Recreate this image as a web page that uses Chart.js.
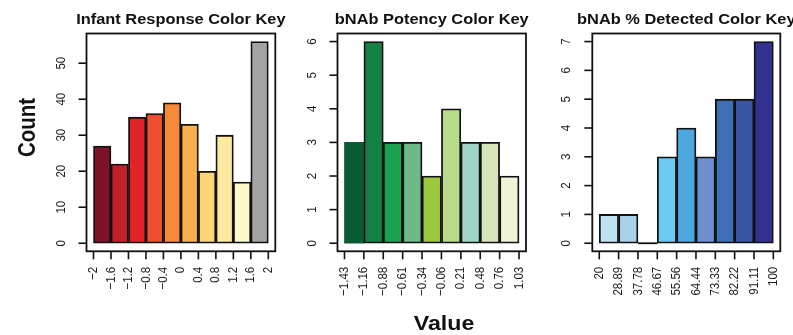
<!DOCTYPE html>
<html>
<head>
<meta charset="utf-8">
<script src="https://cdn.jsdelivr.net/npm/chart.js@4/dist/chart.umd.min.js"></script>
<style>
  html, body { margin: 0; padding: 0; background: #fff; }
  #wrap { position: relative; width: 793px; height: 335px; }
  #wrap canvas { position: absolute; left: 0; top: 0; }
</style>
</head>
<body>
<div id="wrap">
  <canvas id="infant" width="793" height="335"></canvas>
  <canvas id="potency" width="793" height="335"></canvas>
  <canvas id="detected" width="793" height="335"></canvas>
</div>
<script>
// Histogram bin edges (also the x tick labels) and counts per bin
const infantBreaks  = [-2, -1.6, -1.2, -0.8, -0.4, 0, 0.4, 0.8, 1.2, 1.6, 2];
const infantCounts  = [27, 22, 35, 36, 39, 33, 20, 30, 17, 56];
const infantYTicks  = [0, 10, 20, 30, 40, 50];

const potencyBreaks = [-1.43, -1.16, -0.88, -0.61, -0.34, -0.06, 0.21, 0.48, 0.76, 1.03];
const potencyCounts = [3, 6, 3, 3, 2, 4, 3, 3, 2];
const potencyYTicks = [0, 1, 2, 3, 4, 5, 6];

const detectedBreaks = [20, 28.89, 37.78, 46.67, 55.56, 64.44, 73.33, 82.22, 91.11, 100];
const detectedCounts = [1, 1, 0, 3, 4, 3, 5, 5, 7];
const detectedYTicks = [0, 1, 2, 3, 4, 5, 6, 7];

const panelTitles = ['Infant Response Color Key', 'bNAb Potency Color Key', 'bNAb % Detected Color Key'];

// Fill palettes
const infantColors = ['#7d1229', '#c2202c', '#e32227', '#f04f2f', '#f68a3a', '#f9b04c', '#fcd676', '#fde99f', '#fef8cd', '#a3a3a3'];
const potencyColors = ['#0a5b34', '#138045', '#1ca24f', '#6cb98c', '#9cc93e', '#b9da8b', '#a0d5c5', '#d6e4b9', '#eff4d6'];
const detectedColors = ['#bfe3f0', '#a9d0e9', '#9fc8e6', '#6dcbf1', '#4ba7dc', '#6f8fd0', '#3f6fb6', '#3754a5', '#33318f'];

const FONT = '"Liberation Sans", Arial, Helvetica, sans-serif';
const STRETCH = 1.13;   // horizontal glyph widening used for all text
const INK = '#111111';

function fmt(v) {
  return String(v).replace('-', '\u2212');
}

// Box, outward ticks, tick labels and titles in base-graphics style
const rFrame = {
  id: 'rFrame',
  afterDatasetsDraw(chart) {
    const ctx = chart.ctx;
    const meta = chart.getDatasetMeta(0);
    const ds = chart.data.datasets[0];
    ctx.save();
    ctx.strokeStyle = INK;
    ctx.lineWidth = 1.8;
    meta.data.forEach((bar, i) => {
      if (ds.data[i].y === 0) {
        const p = bar.getProps(['x', 'y', 'width'], true);
        ctx.beginPath();
        ctx.moveTo(p.x - p.width / 2, p.y);
        ctx.lineTo(p.x + p.width / 2, p.y);
        ctx.stroke();
      }
    });
    ctx.restore();
  },
  afterDraw(chart, args, opts) {
    const ctx = chart.ctx;
    const a = chart.chartArea;
    const xs = chart.scales.x, ys = chart.scales.y;
    ctx.save();
    ctx.strokeStyle = INK;
    ctx.lineWidth = 1.8;
    ctx.strokeRect(a.left, a.top, a.right - a.left, a.bottom - a.top);

    ctx.lineWidth = 1.6;
    opts.breaks.forEach((b, i) => {
      const px = xs.getPixelForValue(i);
      ctx.beginPath();
      ctx.moveTo(px, a.bottom);
      ctx.lineTo(px, a.bottom + 8);
      ctx.stroke();
    });
    opts.yTicks.forEach(v => {
      const py = ys.getPixelForValue(v);
      ctx.beginPath();
      ctx.moveTo(a.left - 8, py);
      ctx.lineTo(a.left, py);
      ctx.stroke();
    });

    ctx.fillStyle = '#1c1c1c';
    ctx.font = '11.5px ' + FONT;
    opts.breaks.forEach((b, i) => {
      const px = xs.getPixelForValue(i);
      ctx.save();
      ctx.translate(px, a.bottom + 15.5);
      ctx.scale(STRETCH, 1);
      ctx.rotate(-Math.PI / 2);
      ctx.textAlign = 'right';
      ctx.textBaseline = 'middle';
      ctx.fillText(fmt(b), 0, 0);
      ctx.restore();
    });
    opts.yTicks.forEach(v => {
      const py = ys.getPixelForValue(v);
      ctx.save();
      ctx.translate(a.left - 25.5, py);
      ctx.scale(STRETCH, 1);
      ctx.rotate(-Math.PI / 2);
      ctx.textAlign = 'center';
      ctx.textBaseline = 'middle';
      ctx.fillText(fmt(v), 0, 0);
      ctx.restore();
    });

    ctx.fillStyle = '#111';
    ctx.font = 'bold 14.5px ' + FONT;
    ctx.save();
    ctx.translate((a.left + a.right) / 2, 24);
    ctx.scale(STRETCH, 1);
    ctx.textAlign = 'center';
    ctx.textBaseline = 'alphabetic';
    ctx.fillText(opts.title, 0, 0);
    ctx.restore();

    if (opts.yTitle) {
      ctx.font = 'bold 20.5px ' + FONT;
      ctx.save();
      ctx.translate(35, 127.5);
      ctx.scale(STRETCH, 1);
      ctx.rotate(-Math.PI / 2);
      ctx.textAlign = 'center';
      ctx.textBaseline = 'alphabetic';
      ctx.fillText(opts.yTitle, 0, 0);
      ctx.restore();
    }
    if (opts.xTitle) {
      ctx.font = 'bold 20.5px ' + FONT;
      ctx.save();
      ctx.translate(444, 330);
      ctx.scale(STRETCH, 1);
      ctx.textAlign = 'center';
      ctx.textBaseline = 'alphabetic';
      ctx.fillText(opts.xTitle, 0, 0);
      ctx.restore();
    }
    ctx.restore();
  }
};

function histogram(id, cfg) {
  const nBins = cfg.counts.length;
  const yMax = Math.max(...cfg.counts);
  const points = cfg.counts.map((c, i) => ({ x: i + 0.5, y: c }));
  return new Chart(document.getElementById(id), {
    type: 'bar',
    data: {
      datasets: [{
        data: points,
        backgroundColor: cfg.colors,
        borderColor: INK,
        borderWidth: cfg.borderWidths || 1.8,
        borderSkipped: false,
        barThickness: 'flex',
        barPercentage: 1,
        categoryPercentage: 1
      }]
    },
    options: {
      responsive: false,
      animation: false,
      devicePixelRatio: 1,
      layout: {
        padding: { left: cfg.boxLeft, right: 793 - cfg.boxRight, top: 33.5, bottom: 335 - 251.3 }
      },
      scales: {
        x: {
          type: 'linear', display: false, offset: false, grace: 0,
          min: -0.04 * nBins, max: 1.04 * nBins
        },
        y: {
          type: 'linear', display: false, offset: false, grace: 0, beginAtZero: false,
          min: -0.04 * yMax, max: 1.04 * yMax
        }
      },
      plugins: {
        legend: { display: false },
        tooltip: { enabled: false },
        rFrame: {
          title: cfg.title,
          breaks: cfg.breaks,
          yTicks: cfg.yTicks,
          yTitle: cfg.yTitle,
          xTitle: cfg.xTitle
        }
      }
    },
    plugins: [rFrame]
  });
}

histogram('infant', {
  title: panelTitles[0], breaks: infantBreaks, counts: infantCounts, yTicks: infantYTicks,
  colors: infantColors, boxLeft: 86.5, boxRight: 275.3, yTitle: 'Count'
});
histogram('potency', {
  title: panelTitles[1], breaks: potencyBreaks, counts: potencyCounts, yTicks: potencyYTicks,
  colors: potencyColors, borderWidths: [0, 1.8, 1.8, 1.8, 1.8, 1.8, 1.8, 1.8, 1.8],
  boxLeft: 337.5, boxRight: 526, xTitle: 'Value'
});
histogram('detected', {
  title: panelTitles[2], breaks: detectedBreaks, counts: detectedCounts, yTicks: detectedYTicks,
  colors: detectedColors, boxLeft: 592.3, boxRight: 780.3
});
</script>
</body>
</html>
